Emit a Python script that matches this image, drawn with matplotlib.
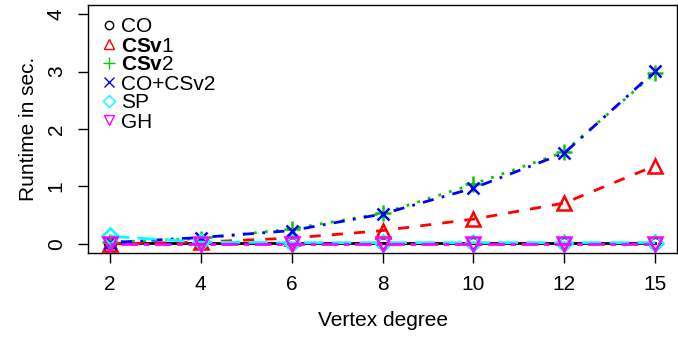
import matplotlib
matplotlib.use("Agg")
import matplotlib.pyplot as plt
from matplotlib.lines import Line2D
import numpy as np

plt.rcParams['font.family'] = ['Liberation Sans', 'DejaVu Sans']
plt.rcParams['mathtext.fontset'] = 'custom'
plt.rcParams['mathtext.rm'] = 'Liberation Sans'
plt.rcParams['mathtext.bf'] = 'Liberation Sans:bold'

# donnees
degres = ["2", "4", "6", "8", "10", "12", "15"]
co = [0.01, 0.01, 0.01, 0.01, 0.01, 0.01, 0.01]
csv1 = [0.0, 0.03, 0.10, 0.23, 0.43, 0.71, 1.36]
csv2 = [0.03, 0.09, 0.26, 0.53, 1.04, 1.60, 2.98]
co_csv2 = [0.02, 0.11, 0.23, 0.52, 0.97, 1.58, 3.01]
sp = [0.13, 0.03, 0.02, 0.02, 0.02, 0.02, 0.02]
gh = [0.0, 0.0, 0.0, 0.0, 0.0, 0.0, 0.0]

noms = ["CO", r"$\mathbf{CSv}$1", r"$\mathbf{CSv}$2", "CO+CSv2", "SP", "GH"]
series = [co, csv1, csv2, co_csv2, sp, gh]
couleurs = ["black", "red", "#00CD00", "blue", "cyan", "magenta"]
marqueurs = ["o", "^", "+", "x", "D", "v"]
tailles = [8, 10, 11, 9, 8, 10]
tirets = [None, (4, 4), (1, 3), (1, 3, 4, 3), (7, 3), (2, 2, 6, 2)]

fig = plt.figure(figsize=(6.78, 3.37), dpi=100)
ax = fig.add_axes([88/678, (337-253)/337, (677-88)/678, (253-5)/337])

x = np.arange(1, len(degres) + 1)
poignees = []
for y, c, m, s, d, n in zip(series, couleurs, marqueurs, tailles, tirets, noms):
    ligne, = ax.plot(x, y, color=c, lw=2, marker=m, markersize=s,
                     markerfacecolor="none", markeredgewidth=1.8)
    if d is not None:
        ligne.set_dashes(d)
    poignees.append(Line2D([], [], color=c, marker=m, linestyle="none",
                           markersize=s * 0.75, markerfacecolor="none",
                           markeredgewidth=1.0, label=n))

ax.set_xlim(0.76, 7.24)
ax.set_ylim(-0.16, 4.16)
ax.set_xticks(x)
ax.set_xticklabels(degres)
ax.set_yticks([0, 1, 2, 3, 4])
ax.set_yticklabels(["0", "1", "2", "3", "4"], rotation=90, va="center")
ax.tick_params(labelsize=15, length=7, width=1, pad=9)
for sp_ in ax.spines.values():
    sp_.set_linewidth(1)

ax.set_xlabel("Vertex degree", fontsize=15, labelpad=12)
ax.set_ylabel("Runtime in sec.", fontsize=15, labelpad=6)

ax.legend(handles=poignees, loc="upper left", frameon=False, fontsize=15,
          handlelength=0.8, handletextpad=0.2, labelspacing=0.0,
          borderaxespad=0.0, borderpad=0.6, bbox_to_anchor=(0.0, 1.0))

fig.savefig("out.png", dpi=100)
